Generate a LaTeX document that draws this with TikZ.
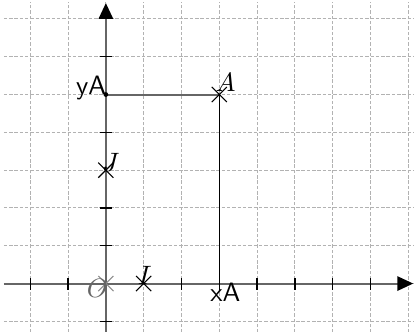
\documentclass[tikz,border=0pt]{standalone}
\usepackage{amsmath}
\usetikzlibrary{arrows.meta,shapes.misc}

\begin{document}
\begin{tikzpicture}[x=0.5cm, y=0.5cm, >={Triangle[length=6pt, width=5.4pt, color=black]},
  gridline/.style={black!30, line width=0.4pt, dash pattern=on 1.3pt off 0.7pt},
  axis/.style={black!60, line width=0.75pt},
  tick/.style={black, line width=0.5pt},
  pt/.style={cross out, draw, minimum size=5.3pt, inner sep=0pt, line width=0.4pt},
  lbl/.style={inner sep=0pt}]
\useasboundingbox (-2.8,-1.26) rectangle (8.15,7.5);
% grid
\foreach \x in {-2,...,8} \draw[gridline] (\x,-1.3) -- (\x,7.45);
\foreach \y in {-1,...,7} \draw[gridline] (-2.7,\y) -- (8.15,\y);
% points
\coordinate (O) at (0,0);
\coordinate (I) at (1,0);
\coordinate (J) at (0,3);
\coordinate (A) at (3,5);
\coordinate (xA) at (3,0);
\coordinate (yA) at (0,5);
\coordinate (xmin) at (-2.7,0);
\coordinate (xmax) at (8.13,0);
\coordinate (ymin) at (0,-1.3);
\coordinate (ymax) at (0,7.42);
% axes
\draw[axis, ->] (xmin) -- (xmax);
\draw[axis, ->] (ymin) -- (ymax);
\foreach \x in {-2,-1,2,3,4,5,6,7} \draw[tick] ([yshift=-2.25pt]\x,0) -- ([yshift=2.25pt]\x,0);
\foreach \y in {-1,1,2,4,6} \draw[tick] ([xshift=-2.25pt]0,\y) -- ([xshift=2.25pt]0,\y);
% projections
\draw[axis] (yA) -- (A);
\draw[black, line width=0.4pt] (A) -- (xA);
\fill (yA) circle (0.9pt);
\node[pt, draw=black!45] (mO) at (O) {};
\node[pt] (mI) at (I) {};
\node[pt] (mJ) at (J) {};
\node[pt] (mA) at (A) {};
% labels
\node[lbl, black!60] (lO) at (-0.225,-0.12) {$O$};
\node[lbl] (lI) at (1.03,0.225) {$I$};
\node[lbl] (lJ) at (0.13,3.2) {$J$};
\node[lbl] (lA) at (3.17,5.33) {$A$};
\node[lbl, anchor=base, font=\sffamily] (lyA) at (-0.39,5.0) {yA};
\node[lbl, anchor=base, font=\sffamily] (lxA) at (3.16,-0.48) {xA};
\end{tikzpicture}
\end{document}
